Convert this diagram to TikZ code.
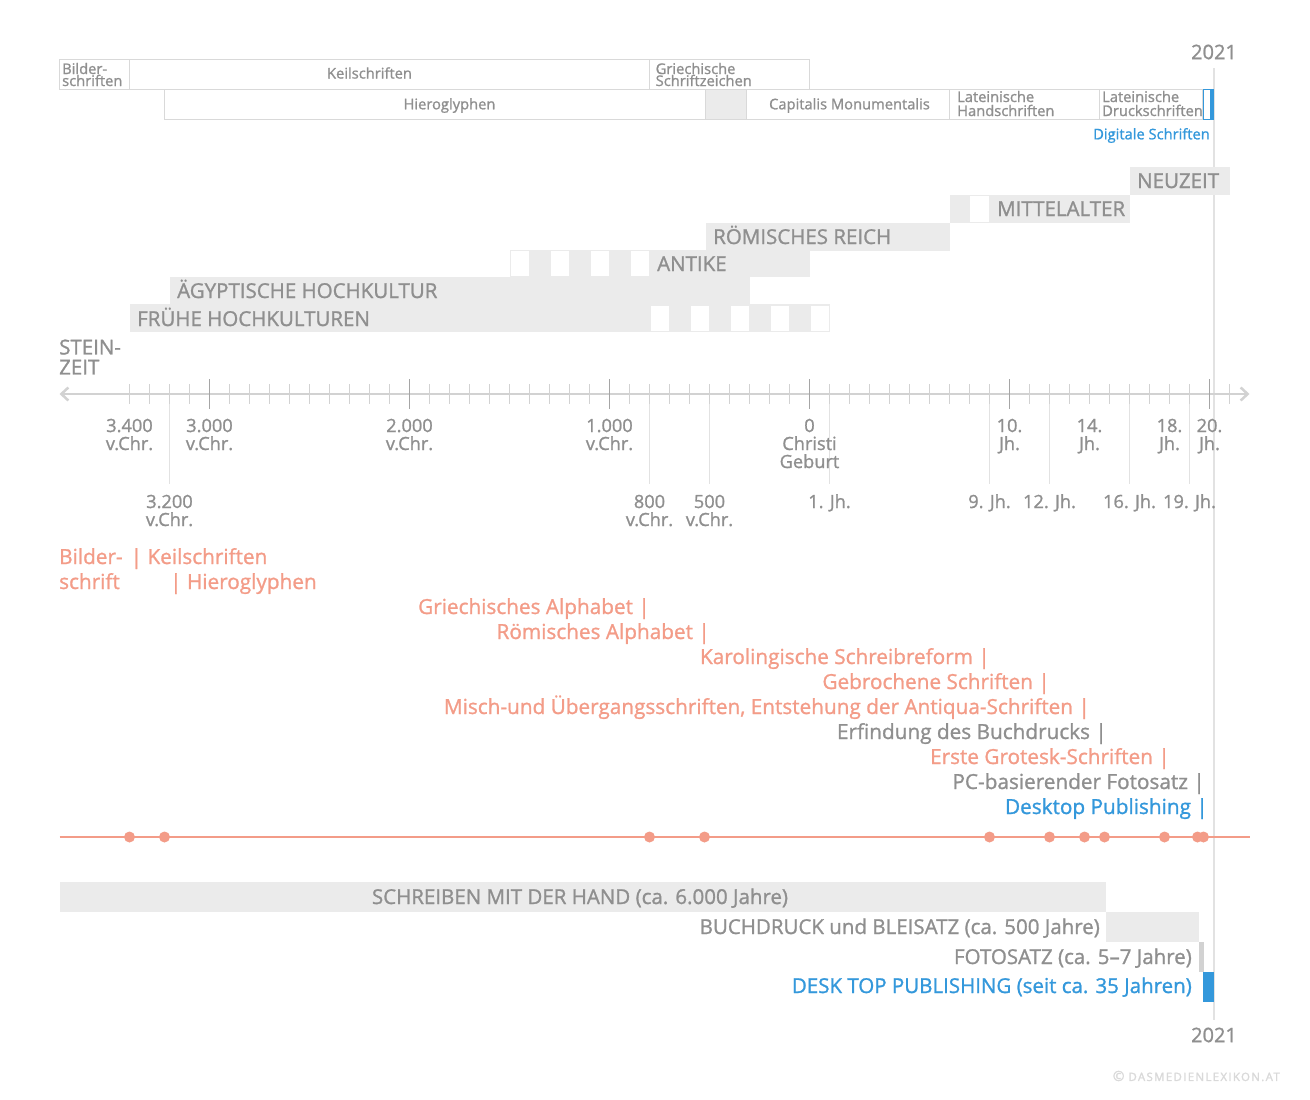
\documentclass[tikz,border=0pt]{standalone}
\usepackage{fontspec}
\setmainfont{Open Sans}[FakeBold=1.2]
\newfontfamily\creditfont{Open Sans}[LetterSpace=11.4,FakeBold=2]
\usetikzlibrary{arrows.meta}
\definecolor{txtgray}{HTML}{8F8F8F}
\definecolor{bargray}{HTML}{EBEBEB}
\definecolor{rulegray}{HTML}{D9D9D9}
\definecolor{axisgray}{HTML}{D2D2D2}
\definecolor{longgray}{HTML}{E2E2E2}
\definecolor{salmon}{HTML}{F39C88}
\definecolor{dtpblue}{HTML}{3498DB}
\tikzset{
	boxlabel/.style={text=txtgray,font=\fontsize{14.7}{12}\selectfont,inner sep=0,align=left},
	epoch/.style={text=txtgray,font=\fontsize{20.5}{20}\selectfont,inner sep=0,anchor=base west},
	ticklabel/.style={text=txtgray,font=\fontsize{18.2}{18}\selectfont,inner sep=0,align=center,anchor=base},
	script/.style={text=salmon,font=\fontsize{20.75}{25}\selectfont,inner sep=0,anchor=base east},
	span/.style={text=txtgray,font=\fontsize{20.5}{21}\selectfont,inner sep=0,anchor=base east},
	yearbox/.style={draw=rulegray,line width=1pt,fill=white}
}
\begin{document}
\begin{tikzpicture}[x=1pt,y=-1pt]
	\useasboundingbox (0.5,0) rectangle (1310.5,1100);
	\def\barh{28}
	\draw[longgray,line width=2pt] (1214,68) -- (1214,1020); % year line
	% script boxes
	\draw[yearbox] (60,59.5) rectangle (130,89.5);
	\draw[yearbox] (130,59.5) rectangle (650,89.5);
	\draw[yearbox] (650,59.5) rectangle (810,89.5);
	\draw[yearbox] (165,89.5) rectangle (706,119.5);
	\draw[yearbox,fill=bargray] (706,89.5) rectangle (747,119.5);
	\draw[yearbox] (747,89.5) rectangle (950,119.5);
	\draw[yearbox] (950,89.5) rectangle (1100,119.5);
	\draw[yearbox] (1100,89.5) rectangle (1203,119.5);
	\draw[dtpblue,line width=1pt,fill=white] (1203.5,89.5) rectangle (1213.5,119.5);
	\fill[dtpblue] (1210,89.5) rectangle (1214.5,119.5);
	\node[boxlabel,anchor=west] (bilder) at (62.5,74.5) {Bilder-\\schriften};
	\node[boxlabel] (keil) at (370,73) {Keilschriften};
	\node[boxlabel,anchor=west] (griech) at (656,74.5) {Griechische\\Schriftzeichen};
	\node[boxlabel] (hiero) at (450,105.5) {Hieroglyphen};
	\node[boxlabel] (capitalis) at (850,105.5) {Capitalis Monumentalis};
	\node[boxlabel,anchor=west] (hand) at (957.5,103.5) {Lateinische\\[2pt]Handschriften};
	\node[boxlabel,anchor=west] (druck) at (1102.5,103.5) {Lateinische\\[2pt]Druckschriften};
	\node[boxlabel,text=dtpblue,anchor=east] (digital) at (1210.5,135.5) {Digitale Schriften};
	\node[text=txtgray,font=\fontsize{20}{20}\selectfont,inner sep=0] (topyear) at (1214.5,52) {2021};
	% epochs
	\fill[bargray] (1130,167) rectangle ++(100,\barh);
	\fill[bargray] (950,195) rectangle ++(180,\barh);
	\fill[white] (970,196) rectangle (989,222);
	\fill[bargray] (706,223) rectangle ++(244,\barh);
	\fill[bargray] (510,250) rectangle (810,277);
	\foreach \x in {510,550,590,630}
		\draw[bargray,line width=1pt,fill=white] (\x+.5,250.5) rectangle ++(19.5,26);
	\fill[bargray] (170,277) rectangle (750,304);
	\fill[bargray] (130,304) rectangle (830,332);
	\foreach \x in {650,690,730,770,810}
		\draw[bargray,line width=1pt,fill=white] (\x+.5,305) rectangle ++(19.5,26.5);
	\node[epoch] (neuzeit) at (1137.5,188) {NEUZEIT};
	\node[epoch] (mittelalter) at (997.5,216) {MITTELALTER};
	\node[epoch] (rom) at (713.5,244) {RÖMISCHES REICH};
	\node[epoch] (antike) at (657.5,271) {ANTIKE};
	\node[epoch] (aegypt) at (177.5,298) {ÄGYPTISCHE HOCHKULTUR};
	\node[epoch] (fruehe) at (137.5,326) {FRÜHE HOCHKULTUREN};
	\node[epoch,align=left,anchor=west] (stein) at (59.5,357) {STEIN-\\ZEIT};
	% time axis
	\coordinate (axisL) at (60,394);
	\coordinate (axisR) at (1250,394);
	\foreach \x in {170,650,710,830,990,1050,1130,1190}
		\draw[longgray,line width=1.5pt] (\x,384) -- (\x,484);
	\draw[axisgray,line width=2.5pt,{Straight Barb[length=7pt,width=13pt]}-{Straight Barb[length=7pt,width=13pt]}] (axisL) -- (axisR);
	\foreach \x in {130,150,...,1230}
		\draw[axisgray,line width=1pt] (\x,384) -- (\x,404);
	\foreach \x in {210,410,...,1210}
		\draw[txtgray!80!white,line width=1pt] (\x,379) -- (\x,409);
	\node[ticklabel] (t3400) at (130,450) {3.400\\v.Chr.};
	\node[ticklabel] (t3000) at (210,450) {3.000\\v.Chr.};
	\node[ticklabel] (t2000) at (410,450) {2.000\\v.Chr.};
	\node[ticklabel] (t1000) at (610,450) {1.000\\v.Chr.};
	\node[ticklabel] (t0) at (810,468) {0\\Christi\\Geburt};
	\node[ticklabel] (t10) at (1010,450) {10.\\Jh.};
	\node[ticklabel] (t14) at (1090,450) {14.\\Jh.};
	\node[ticklabel] (t18) at (1170,450) {18.\\Jh.};
	\node[ticklabel] (t20) at (1210,450) {20.\\Jh.};
	\node[ticklabel] (t3200) at (170,526) {3.200\\v.Chr.};
	\node[ticklabel] (t800) at (650,526) {800\\v.Chr.};
	\node[ticklabel] (t500) at (710,526) {500\\v.Chr.};
	\node[ticklabel] (j1) at (830,508) {1. Jh.};
	\node[ticklabel] (j9) at (990,508) {9. Jh.};
	\node[ticklabel] (j12) at (1050,508) {12. Jh.};
	\node[ticklabel] (j16) at (1130,508) {16. Jh.};
	\node[ticklabel] (j19) at (1190,508) {19. Jh.};
	% script history
	\node[script,anchor=base west] (bildschrift) at (59.5,564) {Bilder-};
	\node[script,anchor=base west] (bildschrift2) at (59.5,589) {schrift};
	\node[script,anchor=base west] (keilh) at (131,564) {| Keilschriften};
	\node[script,anchor=base west] (hieroh) at (170.5,589) {| Hieroglyphen};
	\node[script] (griechh) at (650.5,614) {Griechisches Alphabet |};
	\node[script] (romh) at (710.5,639) {Römisches Alphabet |};
	\node[script] (karol) at (990.5,664) {Karolingische Schreibreform |};
	\node[script] (gebr) at (1050.5,689) {Gebrochene Schriften |};
	\node[script] (misch) at (1090.5,714) {Misch-und Übergangsschriften, Entstehung der Antiqua-Schriften |};
	\node[script,text=txtgray] (buchdruck) at (1107.5,739) {Erfindung des Buchdrucks |};
	\node[script] (grotesk) at (1170.5,764) {Erste Grotesk-Schriften |};
	\node[script,text=txtgray] (pcsatz) at (1205.5,789) {PC-basierender Fotosatz |};
	\node[script,text=dtpblue] (dtp) at (1208.5,814) {Desktop Publishing |};
	\coordinate (lineL) at (60,837);
	\coordinate (lineR) at (1250,837);
	\draw[salmon,line width=2pt] (lineL) -- (lineR);
	\foreach \x in {130,165,650,705,990,1050,1085,1105,1165,1198,1204}
		\fill[salmon] (\x,837) circle[radius=5.5];
	% production methods
	\fill[bargray] (60,882) rectangle (1106,912);
	\fill[bargray] (1106,912) rectangle (1199,942);
	\fill[axisgray] (1199,942) rectangle (1204,972);
	\fill[dtpblue] (1203,972) rectangle (1214,1002);
	\node[span,anchor=base] (hand2) at (580.5,904) {SCHREIBEN MIT DER HAND (ca. 6.000 Jahre)};
	\node[span] (blei) at (1100.5,934) {BUCHDRUCK und BLEISATZ (ca. 500 Jahre)};
	\node[span] (foto) at (1192.5,964) {FOTOSATZ (ca. 5–7 Jahre)};
	\node[span,text=dtpblue] (dtpspan) at (1192.5,993) {DESK TOP PUBLISHING (seit ca. 35 Jahren)};
	\node[text=txtgray,font=\fontsize{20}{20}\selectfont,inner sep=0] (botyear) at (1214.5,1035) {2021};
	\node[text=rulegray,font=\fontsize{11.5}{12}\creditfont,inner sep=0,anchor=east] (credit) at (1280.5,1076) {{\fontsize{14}{12}\selectfont ©}\hspace{4pt}DASMEDIENLEXIKON.AT};
\end{tikzpicture}
\end{document}
